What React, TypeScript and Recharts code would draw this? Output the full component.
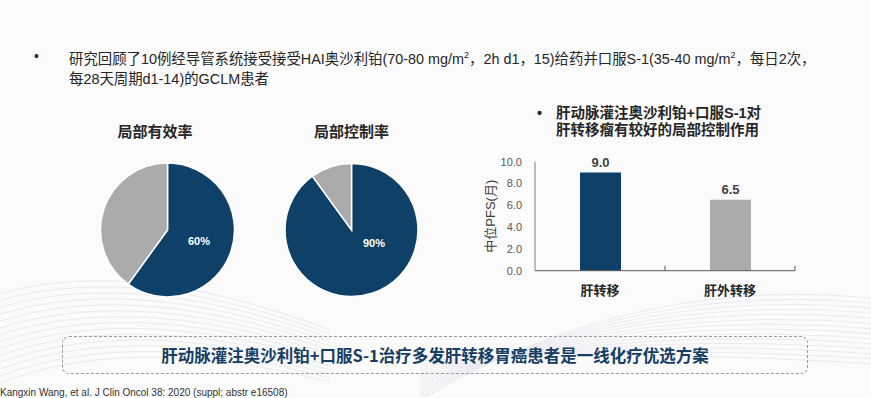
import React from 'react';
import { PieChart, Pie, Cell, BarChart, Bar, XAxis, YAxis, LabelList } from 'recharts';

const NAVY = '#0E4068';
const GRAY = '#ABABAB';
const FONT = '"Liberation Sans", Arial, "Noto Sans CJK SC", sans-serif';

const pieTitles = ['局部有效率', '局部控制率'];
const responseData = [
  { name: '有效', value: 60 },
  { name: '其他', value: 40 },
];
const controlData = [
  { name: '控制', value: 90 },
  { name: '其他', value: 10 },
];
const pfsCategories = ['肝转移', '肝外转移'];
const pfsValues = [9.0, 6.5];
const pfsTicks = [0, 2, 4, 6, 8, 10];
const pfsData = pfsCategories.map((c, i) => ({ name: c, value: pfsValues[i] }));
const barColors = [NAVY, GRAY];

const headerLine1 = (
  <>
    研究回顾了10例经导管系统接受接受HAI奥沙利铂(70-80 mg/m<sup style={{ fontSize: 9 }}>2</sup>，2h d1，15)给药并口服S-1(35-40 mg/m<sup style={{ fontSize: 9 }}>2</sup>，每日2次，
  </>
);
const headerLine2 = '每28天周期d1-14)的GCLM患者';
const barTitle1 = '肝动脉灌注奥沙利铂+口服S-1对';
const barTitle2 = '肝转移瘤有较好的局部控制作用';
const yLabel = '中位PFS(月)';
const boxText = '肝动脉灌注奥沙利铂+口服S-1治疗多发肝转移胃癌患者是一线化疗优选方案';
const footnote = 'Kangxin Wang, et al. J Clin Oncol 38: 2020 (suppl; abstr e16508)';

const makePieLabel = (dx: number, dy: number) => (props: any) => {
  if (props.index !== 0) return null;
  return (
    <text
      x={props.cx + dx}
      y={props.cy + dy}
      fill="#fff"
      fontSize={11}
      fontWeight={700}
      fontFamily={FONT}
      textAnchor="middle"
      dominantBaseline="central"
    >
      {props.value}%
    </text>
  );
};

const TICK_M = 14;
const CatTick = (props: any) => {
  const { x, y, payload } = props;
  const off = payload.offset || 0;
  const axisY = y - TICK_M;
  return (
    <g>
      <line x1={x + off} x2={x + off} y1={axisY - 5} y2={axisY} stroke="#595959" strokeWidth={1} />
      <text
        x={x}
        y={y + 6}
        textAnchor="middle"
        fontSize={13}
        fontWeight={700}
        fill="#262626"
        fontFamily={FONT}
        dominantBaseline="central"
      >
        {payload.value}
      </text>
    </g>
  );
};

const Waves = () => {
  const left: string[] = [];
  const right: string[] = [];
  for (let i = 0; i < 14; i++) {
    left.push(`M -20 ${300 + i * 7} Q 120 ${250 + i * 6} 330 ${330 + i * 4}`);
    right.push(`M 420 ${400 - i * 3} Q 640 ${270 + i * 6} 890 ${300 + i * 5}`);
  }
  return (
    <svg width={871} height={398} style={{ position: 'absolute', left: 0, top: 0 }}>
      {left.map((d, i) => (
        <path key={'l' + i} d={d} fill="none" stroke="#e4e4e8" strokeWidth={0.8} />
      ))}
      {right.map((d, i) => (
        <path key={'r' + i} d={d} fill="none" stroke="#e6e4ee" strokeWidth={0.8} />
      ))}
    </svg>
  );
};

export default function App() {
  return (
    <div
      style={{
        position: 'absolute',
        left: 0,
        top: 0,
        width: 871,
        height: 398,
        overflow: 'hidden',
        background: '#FBFBFB',
        fontFamily: FONT,
        color: '#262626',
      }}
    >
      <Waves />
      {/* header */}
      <div style={{ position: 'absolute', left: 34, top: 46, fontSize: 14, lineHeight: '20px' }}>•</div>
      <div style={{ position: 'absolute', left: 69, top: 45, fontSize: 14.4, lineHeight: '20px', whiteSpace: 'nowrap' }}>
        {headerLine1}
      </div>
      <div style={{ position: 'absolute', left: 69, top: 69, fontSize: 14.4, lineHeight: '20px', whiteSpace: 'nowrap' }}>
        {headerLine2}
      </div>

      {/* pie titles */}
      <div style={{ position: 'absolute', left: 105, width: 100, top: 122, textAlign: 'center', fontSize: 15, fontWeight: 700, lineHeight: '20px' }}>
        {pieTitles[0]}
      </div>
      <div style={{ position: 'absolute', left: 301.5, width: 100, top: 122, textAlign: 'center', fontSize: 15, fontWeight: 700, lineHeight: '20px' }}>
        {pieTitles[1]}
      </div>

      <div style={{ position: 'absolute', left: 90, top: 150 }}>
        <PieChart width={340} height={160} margin={{ top: 0, right: 0, bottom: 0, left: 0 }}>
          <Pie
            data={responseData}
            dataKey="value"
            cx={77.5}
            cy={80}
            outerRadius={67}
            startAngle={90}
            endAngle={-270}
            stroke="#fff"
            strokeWidth={1.5}
            isAnimationActive={false}
            labelLine={false}
            label={makePieLabel(31.5, 11)}
          >
            {responseData.map((d, i) => (
              <Cell key={d.name + i} fill={i === 0 ? NAVY : GRAY} />
            ))}
          </Pie>
          <Pie
            data={controlData}
            dataKey="value"
            cx={261.5}
            cy={80}
            outerRadius={66.5}
            startAngle={90}
            endAngle={-270}
            stroke="#fff"
            strokeWidth={1.5}
            isAnimationActive={false}
            labelLine={false}
            label={makePieLabel(22.5, 13)}
          >
            {controlData.map((d, i) => (
              <Cell key={d.name + i} fill={i === 0 ? NAVY : GRAY} />
            ))}
          </Pie>
        </PieChart>
      </div>

      {/* bar title */}
      <div style={{ position: 'absolute', left: 537, top: 103, fontSize: 14.5, fontWeight: 700, lineHeight: '20px' }}>•</div>
      <div style={{ position: 'absolute', left: 556, top: 103, fontSize: 14.5, fontWeight: 700, lineHeight: '20px', whiteSpace: 'nowrap' }}>
        {barTitle1}
      </div>
      <div style={{ position: 'absolute', left: 556, top: 120, fontSize: 14.5, fontWeight: 700, lineHeight: '20px', whiteSpace: 'nowrap' }}>
        {barTitle2}
      </div>

      <div style={{ position: 'absolute', left: 470, top: 140 }}>
        <BarChart
          width={340}
          height={170}
          data={pfsData}
          margin={{ top: 21.7, right: 15, bottom: 9.3, left: 0 }}
          barSize={41}
        >
          <XAxis
            dataKey="name"
            axisLine={{ stroke: '#595959', strokeWidth: 1 }}
            tickLine={false}
            tickSize={0}
            tickMargin={TICK_M}
            height={30}
            tick={<CatTick />}
            interval={0}
          />
          <YAxis
            domain={[0, 10]}
            ticks={pfsTicks}
            tickFormatter={(v: number) => v.toFixed(1)}
            axisLine={{ stroke: '#7f7f7f', strokeWidth: 1 }}
            tickLine={false}
            tickMargin={7}
            width={65}
            tick={{ fontSize: 11, fill: '#595959', fontFamily: FONT }}
            label={{
              value: yLabel,
              angle: -90,
              position: 'center',
              dx: -12.5,
              style: { fontSize: 13, fill: '#404040', fontFamily: FONT, textAnchor: 'middle' },
            }}
          />
          <Bar dataKey="value" isAnimationActive={false}>
            {pfsData.map((d, i) => (
              <Cell key={d.name} fill={barColors[i]} />
            ))}
            <LabelList
              dataKey="value"
              position="top"
              offset={6}
              formatter={(v: any) => Number(v).toFixed(1)}
              style={{ fontSize: 13, fontWeight: 700, fill: '#404040', fontFamily: FONT }}
            />
          </Bar>
        </BarChart>
      </div>

      {/* bottom box */}
      <div
        style={{
          position: 'absolute',
          left: 62,
          top: 336,
          width: 744,
          height: 36,
          border: '1.5px dashed #9a9a9a',
          borderRadius: 7,
          display: 'flex',
          alignItems: 'center',
          justifyContent: 'center',
          fontSize: 16.5,
          fontWeight: 700,
          color: '#173D63',
          whiteSpace: 'nowrap',
          fontFamily: '"Noto Sans CJK SC", sans-serif',
        }}
      >
        {boxText}
      </div>

      <div
        style={{
          position: 'absolute',
          left: 0,
          top: 387,
          fontSize: 10,
          lineHeight: '12px',
          color: '#333',
          whiteSpace: 'nowrap',
          fontFamily: '"Liberation Sans Narrow", "Liberation Sans", Arial, sans-serif',
        }}
      >
        {footnote}
      </div>
    </div>
  );
}
